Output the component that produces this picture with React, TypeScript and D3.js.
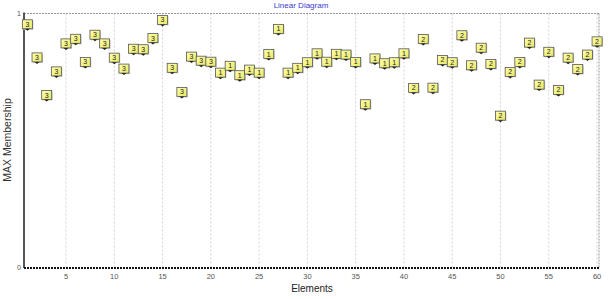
import React from "react";
import * as d3 from "d3";

const elements: number[] = d3.range(1, 61);
const values: number[] = [
  0.934, 0.804, 0.656, 0.749, 0.859, 0.877, 0.786, 0.893, 0.859, 0.803,
  0.760, 0.838, 0.836, 0.880, 0.951, 0.763, 0.668, 0.807, 0.791, 0.787,
  0.744, 0.771, 0.734, 0.756, 0.744, 0.817, 0.916, 0.744, 0.763, 0.785,
  0.820, 0.787, 0.818, 0.815, 0.786, 0.620, 0.800, 0.781, 0.785, 0.820,
  0.684, 0.876, 0.685, 0.794, 0.785, 0.891, 0.773, 0.842, 0.778, 0.575,
  0.747, 0.786, 0.862, 0.697, 0.826, 0.676, 0.803, 0.758, 0.815, 0.867,
];
const clusters: number[] = [
  3, 3, 3, 3, 3, 3, 3, 3, 3, 3, 3, 3, 3, 3, 3, 3, 3, 3, 3, 3,
  1, 1, 1, 1, 1, 1, 1, 1, 1, 1, 1, 1, 1, 1, 1, 1, 1, 1, 1, 1,
  2, 2, 2, 2, 2, 2, 2, 2, 2, 2, 2, 2, 2, 2, 2, 2, 2, 2, 2, 2,
];
const xTicks: number[] = [5, 10, 15, 20, 25, 30, 35, 40, 45, 50, 55, 60];
const yTicks: number[] = [0, 1];

const W = 612;
const H = 299;
const L = 24;
const R = 599;
const T = 13.5;
const B = 268;

export default function App() {
  const x = d3.scaleLinear().domain([0.65, 60.2]).range([L, R]);
  const y = d3.scaleLinear().domain([0, 1]).range([B, T]);
  const font = "'Liberation Sans', Arial, sans-serif";

  return (
    <svg
      width={W}
      height={H}
      style={{ position: "absolute", left: 0, top: 0, background: "#fff" }}
      fontFamily={font}
    >
      <defs>
        <linearGradient id="boxg" x1="0" y1="0" x2="1" y2="1">
          <stop offset="0" stopColor="#ffffb0" />
          <stop offset="1" stopColor="#e8e860" />
        </linearGradient>
      </defs>
      {/* title */}
      <text x={301} y={8} textAnchor="middle" fontSize={8} fill="#3a3acc">
        Linear Diagram
      </text>
      {/* vertical grid */}
      {xTicks.map((t) => (
        <line
          key={"g" + t}
          x1={x(t)}
          x2={x(t)}
          y1={T}
          y2={B}
          stroke="#c8c8c8"
          strokeWidth={0.8}
          strokeDasharray="2,2"
        />
      ))}
      {/* top & right border */}
      <line x1={L} x2={R} y1={T} y2={T} stroke="#999" strokeWidth={1} strokeDasharray="2,1" />
      <line x1={R} x2={R} y1={T} y2={B} stroke="#999" strokeWidth={1} strokeDasharray="2,1" />
      {/* left axis */}
      <line x1={L} x2={L} y1={T - 1} y2={B} stroke="#555" strokeWidth={2} />
      {/* bottom axis */}
      <line x1={L} x2={R + 1} y1={B} y2={B} stroke="#111" strokeWidth={2} strokeDasharray="2,1" />
      {/* y tick labels */}
      {yTicks.map((t) => (
        <text key={"y" + t} x={19} y={y(t) + 2} textAnchor="middle" fontSize={7} fill="#555">
          {t}
        </text>
      ))}
      {/* x tick labels */}
      {xTicks.map((t) => (
        <text key={"x" + t} x={x(t)} y={279} textAnchor="middle" fontSize={7.5} fill="#555">
          {t}
        </text>
      ))}
      {/* axis titles */}
      <text x={312} y={292} textAnchor="middle" fontSize={10} fill="#222">
        Elements
      </text>
      <text
        transform={`translate(11,140) rotate(-90)`}
        textAnchor="middle"
        fontSize={10.5}
        fill="#333"
      >
        MAX Membership
      </text>
      {/* markers */}
      {elements.map((e, i) => {
        const px = x(e);
        const py = y(values[i]);
        return (
          <g key={"m" + e}>
            <rect x={px - 4} y={py - 9.5} width={10} height={9} fill="#ccc" />
            <rect
              x={px - 5}
              y={py - 10.5}
              width={10}
              height={9}
              fill="url(#boxg)"
              stroke="#555"
              strokeWidth={0.8}
            />
            <path
              d={`M${px - 2.5},${py - 1.5}L${px + 2.5},${py - 1.5}L${px},${py + 0.5}Z`}
              fill="#222"
            />
            <text x={px} y={py - 3.5} textAnchor="middle" fontSize={7} fill="#222">
              {clusters[i]}
            </text>
          </g>
        );
      })}
    </svg>
  );
}
